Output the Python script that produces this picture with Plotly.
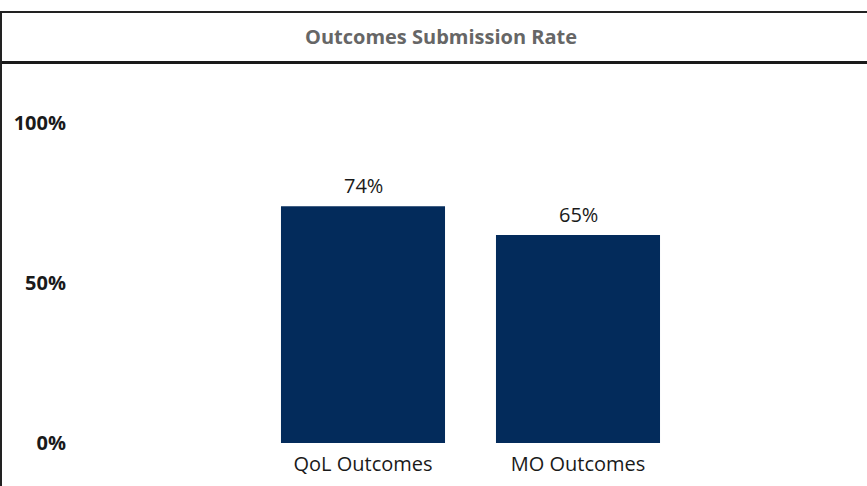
import plotly.graph_objects as go

categories = ["QoL Outcomes", "MO Outcomes"]
rates = [0.74, 0.65]
tick_vals = [0, 0.5, 1.0]
tick_text = ["0%", "50%", "100%"]
title_text = "Outcomes Submission Rate"

W, H = 867, 486
FONT = "Open Sans"

fig = go.Figure()
fig.add_trace(go.Bar(
    x=categories, y=rates,
    marker=dict(color="#032B5B", line=dict(width=0)),
    width=0.763,
    hoverinfo="skip",
))

for c, v in zip(categories, rates):
    fig.add_annotation(x=c, y=v, xref="x", yref="y", text=f"{v:.0%}",
                       showarrow=False, yanchor="bottom", yshift=5,
                       font=dict(family=FONT, size=20, color="#1a1a1a"))

x0 = 70 / W
px_per_unit = 215
left_cat = -(363 - 70) / px_per_unit
right_cat = 1 + (866 - 578) / px_per_unit

fig.update_layout(
    template="none",
    width=W, height=H,
    margin=dict(l=0, r=0, t=0, b=0, pad=0, autoexpand=False),
    paper_bgcolor="white", plot_bgcolor="white",
    showlegend=False,
    xaxis=dict(domain=[x0, 866 / W], range=[left_cat, right_cat], automargin=False,
               showgrid=False, zeroline=False, showline=False, ticks="",
               ticklabelstandoff=7,
               tickfont=dict(family=FONT, size=20, color="#1a1a1a")),
    yaxis=dict(domain=[(H - 443) / H, (H - 123) / H], range=[0, 1], automargin=False,
               tickvals=tick_vals, ticktext=tick_text,
               showgrid=False, zeroline=False, showline=False, ticks="",
               ticklabelstandoff=3,
               tickfont=dict(family=FONT, size=20, color="#1a1a1a", weight="bold")),
    annotations=list(fig.layout.annotations) + [
        dict(text=f"<b>{title_text}</b>", x=441 / W, y=1 - 36 / H, xref="paper", yref="paper",
             showarrow=False, xanchor="center", yanchor="middle",
             font=dict(family=FONT, size=20, color="#666666")),
    ],
    shapes=[
        dict(type="line", xref="paper", yref="paper", x0=0, x1=1,
             y0=1 - 12 / H, y1=1 - 12 / H, line=dict(color="#222222", width=2)),
        dict(type="line", xref="paper", yref="paper", x0=0, x1=1,
             y0=1 - 62.5 / H, y1=1 - 62.5 / H, line=dict(color="#1a1a1a", width=3)),
        dict(type="line", xref="paper", yref="paper", x0=1 / W, x1=1 / W,
             y0=0, y1=1 - 11 / H, line=dict(color="#222222", width=2)),
    ],
)

fig.write_html("out.html", config={"displayModeBar": False},
               post_script="document.body.style.margin='0';document.body.style.overflow='hidden';")
